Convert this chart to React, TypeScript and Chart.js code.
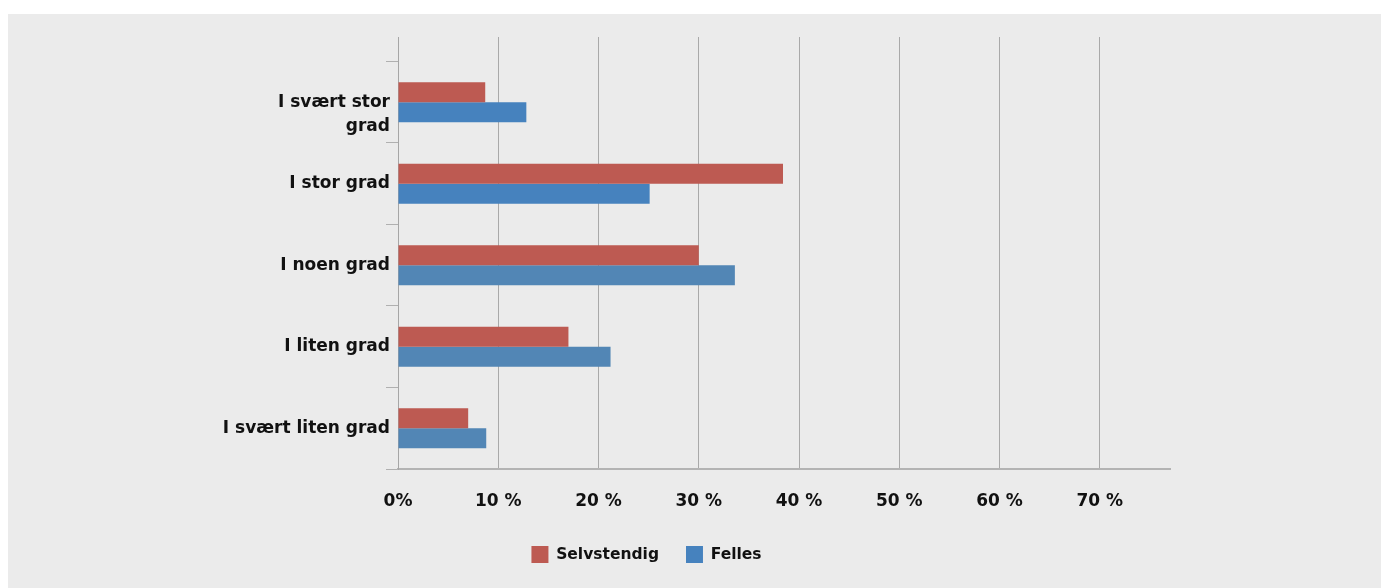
import { useEffect, useRef } from "react";
import { Chart, registerables } from "chart.js";

Chart.register(...registerables);

// ---- data ----
const categories = ["I svært stor grad", "I stor grad", "I noen grad", "I liten grad", "I svært liten grad"];
const categoryTickLabels: (string | string[])[] = [
  ["", "I svært stor", "grad"],
  "I stor grad",
  "I noen grad",
  "I liten grad",
  "I svært liten grad",
];
const seriesNames = ["Selvstendig", "Felles"];
const selvstendig = [8.7, 38.4, 30.0, 17.0, 7.0];
const felles = [12.8, 25.1, 33.6, 21.2, 8.8];
const xTickValues = [0, 10, 20, 30, 40, 50, 60, 70];
const xTickLabels = ["0%", "10 %", "20 %", "30 %", "40 %", "50 %", "60 %", "70 %"];

// ---- styles ----
const RED = "#bd5a52";
const BLUE_BARS = ["#4682be", "#4682be", "#5286b5", "#5286b5", "#5286b5"];
const BLUE_LEGEND = "#5286b8";
const FONT = "'DejaVu Sans', sans-serif";
const TEXT = "#111111";

export default function App() {
  const canvasRef = useRef<HTMLCanvasElement | null>(null);

  useEffect(() => {
    const canvas = canvasRef.current;
    if (!canvas) return;
    const n = categories.length;
    const toPoints = (vals: number[]) => vals.map((v, i) => ({ x: v, y: n - 1 - i }));

    const chart = new Chart(canvas, {
      type: "bar",
      data: {
        datasets: [
          {
            label: seriesNames[0],
            data: toPoints(selvstendig),
            backgroundColor: RED,
            borderWidth: 0,
            categoryPercentage: 0.49,
            barPercentage: 1,
          },
          {
            label: seriesNames[1],
            data: toPoints(felles),
            backgroundColor: (c: any) => (c.type === "data" ? BLUE_BARS[c.dataIndex] : BLUE_LEGEND),
            borderWidth: 0,
            categoryPercentage: 0.49,
            barPercentage: 1,
          },
        ],
      } as any,
      options: {
        indexAxis: "y",
        animation: false,
        responsive: false,
        events: [],
        layout: { padding: { left: 115, right: 211, top: 23, bottom: 15 } },
        plugins: {
          tooltip: { enabled: false },
          legend: {
            position: "bottom",
            labels: {
              boxWidth: 17,
              boxHeight: 17,
              padding: 27,
              color: TEXT,
              font: { family: FONT, size: 15.5, weight: "bold" },
            },
          },
        },
        scales: {
          x: {
            type: "linear",
            min: 0,
            max: 77,
            afterBuildTicks: (s: any) => {
              s.ticks = xTickValues.map((v) => ({ value: v }));
            },
            afterFit: (s: any) => {
              s.height = 50;
            },
            ticks: {
              autoSkip: false,
              maxRotation: 0,
              padding: 22,
              color: TEXT,
              font: { family: FONT, size: 17, weight: "bold" },
              callback: (v: any) => {
                const i = xTickValues.indexOf(Number(v));
                return i >= 0 ? xTickLabels[i] : "";
              },
            },
            grid: { color: "#a9a9a9", lineWidth: 1, drawTicks: false },
            border: { color: "#b3b3b3", width: 2 },
          },
          y: {
            type: "linear",
            offset: false,
            min: -0.5,
            max: 4.8,
            afterBuildTicks: (s: any) => {
              s.ticks = categories.map((_, i) => ({ value: i }));
            },
            afterFit: (s: any) => {
              s.width = 275;
              s.paddingTop = 0;
              s.paddingBottom = 0;
            },
            ticks: {
              autoSkip: false,
              padding: -4,
              color: TEXT,
              font: { family: FONT, size: 17, weight: "bold", lineHeight: 1.41 },
              callback: (v: any) => categoryTickLabels[n - 1 - Number(v)],
            },
            grid: {
              offset: true,
              drawOnChartArea: false,
              drawTicks: true,
              tickLength: 12,
              color: "#b0b0b0",
            },
            border: { display: true, color: "#a6a6a6", width: 1 },
          },
        },
      } as any,
    });

    return () => chart.destroy();
  }, []);

  return (
    <div
      style={{
        position: "absolute",
        left: 8,
        top: 14,
        width: 1373,
        height: 574,
        background: "#ebebeb",
      }}
    >
      <canvas ref={canvasRef} width={1373} height={574} style={{ display: "block" }} />
    </div>
  );
}
